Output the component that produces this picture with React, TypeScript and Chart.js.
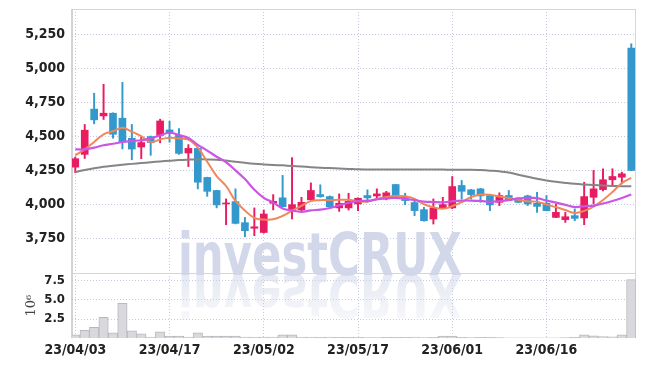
import { useEffect, useRef } from 'react';
import { Chart, registerables } from 'chart.js';

Chart.register(...registerables);

const dates = [
  '23/04/03', '23/04/04', '23/04/05', '23/04/06', '23/04/07', '23/04/10', '23/04/11', '23/04/12', '23/04/13', '23/04/14',
  '23/04/17', '23/04/18', '23/04/19', '23/04/20', '23/04/21', '23/04/24', '23/04/25', '23/04/26', '23/04/27', '23/04/28',
  '23/05/02', '23/05/03', '23/05/04', '23/05/08', '23/05/09', '23/05/10', '23/05/11', '23/05/12', '23/05/15', '23/05/16',
  '23/05/17', '23/05/18', '23/05/19', '23/05/22', '23/05/23', '23/05/24', '23/05/25', '23/05/26', '23/05/30', '23/05/31',
  '23/06/01', '23/06/02', '23/06/05', '23/06/07', '23/06/08', '23/06/09', '23/06/12', '23/06/13', '23/06/14', '23/06/15',
  '23/06/16', '23/06/19', '23/06/20', '23/06/21', '23/06/22', '23/06/23', '23/06/26', '23/06/27', '23/06/28', '23/06/29',
];

const opens = [
  4276, 4370, 4703, 4653, 4673, 4636, 4488, 4424, 4501, 4510,
  4550, 4510, 4380, 4414, 4200, 4104, 4005, 4022, 3867, 3826,
  3795, 4010, 4050, 3956, 3961, 4035, 4074, 4059, 3976, 3976,
  4005, 4067, 4064, 4042, 4148, 4059, 4015, 3963, 3894, 3976,
  3976, 4141, 4109, 4116, 4067, 4017, 4067, 4042, 4064, 4010,
  4010, 3906, 3889, 3919, 3902, 4054, 4111, 4183, 4202, 5152,
];

const highs = [
  4350, 4590, 4820, 4886, 4675, 4900, 4590, 4498, 4505, 4629,
  4614, 4560, 4442, 4418, 4202, 4106, 4042, 4116, 3906, 3976,
  3961, 4074, 4215, 4346, 4054, 4160, 4146, 4064, 4079, 4084,
  4050, 4109, 4116, 4098, 4150, 4084, 4030, 3980, 4042, 4054,
  4207, 4178, 4112, 4120, 4070, 4087, 4104, 4050, 4070, 4091,
  4067, 4005, 3943, 3968, 4165, 4252, 4264, 4264, 4239, 5184,
];

const lows = [
  4235, 4340, 4595, 4627, 4490, 4410, 4330, 4338, 4363, 4455,
  4460, 4370, 4280, 4116, 4061, 3976, 3852, 3858, 3763, 3771,
  3790, 3961, 3983, 3894, 3950, 4033, 4054, 3980, 3950, 3960,
  3956, 4017, 4050, 4035, 4054, 4000, 3919, 3878, 3857, 3974,
  3970, 4042, 4042, 4017, 3956, 3993, 4033, 4015, 3993, 3943,
  3954, 3904, 3869, 3882, 3852, 4005, 4100, 4141, 4153, 4250,
];

const closes = [
  4338, 4548, 4624, 4673, 4518, 4461, 4409, 4457, 4457, 4616,
  4525, 4377, 4414, 4165, 4098, 3998, 4012, 3862, 3808, 3837,
  3931, 4024, 3985, 4000, 4017, 4104, 4059, 3985, 4010, 4024,
  4047, 4050, 4079, 4087, 4059, 4030, 3956, 3882, 3976, 4000,
  4133, 4098, 4074, 4064, 3998, 4067, 4035, 4017, 4005, 3987,
  3956, 3943, 3911, 3899, 4059, 4116, 4183, 4207, 4227, 4252,
];

const volumes = [
  430000, 1040000, 1420000, 2720000, 690000, 4530000, 950000, 560000, 130000, 820000,
  260000, 260000, 130000, 690000, 260000, 260000, 260000, 260000, 130000, 130000,
  130000, 130000, 430000, 430000, 130000, 130000, 100000, 150000, 100000, 100000,
  100000, 80000, 80000, 100000, 100000, 120000, 150000, 80000, 100000, 260000,
  260000, 100000, 80000, 120000, 120000, 80000, 60000, 60000, 60000, 60000,
  60000, 60000, 80000, 100000, 430000, 300000, 220000, 180000, 430000, 7640000,
];

const ma5 = [
  4363, 4407, 4461, 4518, 4540, 4565, 4537, 4504, 4460, 4480,
  4493, 4486, 4478, 4419, 4316, 4210, 4137, 4027, 3956, 3903,
  3890, 3892, 3917, 3955, 3991, 4026, 4033, 4033, 4035, 4036,
  4025, 4023, 4042, 4057, 4064, 4061, 4042, 4003, 3981, 3969,
  3989, 4018, 4056, 4074, 4073, 4060, 4048, 4036, 4024, 4022,
  4000, 3982, 3960, 3939, 3954, 3986, 4034, 4093, 4158, 4197,
];

const ma10 = [
  4407, 4407, 4420, 4437, 4448, 4461, 4468, 4474, 4486, 4510,
  4529, 4512, 4491, 4440, 4398, 4352, 4312, 4252, 4188, 4110,
  4050, 4015, 3972, 3956, 3947, 3958, 3963, 3975, 3995, 4014,
  4026, 4028, 4038, 4046, 4050, 4043, 4033, 4022, 4019, 4017,
  4025, 4030, 4030, 4027, 4021, 4025, 4033, 4046, 4049, 4048,
  4030, 4015, 3998, 3982, 3988, 3993, 4008, 4027, 4049, 4075,
];

const maLong = [
  4239, 4255, 4268, 4279, 4287, 4294, 4300, 4306, 4312, 4318,
  4323, 4328, 4331, 4333, 4333, 4331, 4324, 4316, 4308, 4301,
  4296, 4292, 4289, 4285, 4281, 4276, 4272, 4269, 4266, 4263,
  4260, 4259, 4259, 4259, 4259, 4259, 4259, 4259, 4258, 4258,
  4257, 4257, 4257, 4254, 4250, 4245, 4236, 4220, 4205, 4190,
  4178, 4168, 4160, 4153, 4148, 4144, 4141, 4138, 4136, 4135,
];

const xTickIndex = [0, 10, 20, 30, 40, 50];
const priceTicks = [3750, 4000, 4250, 4500, 4750, 5000, 5250];
const volumeTicks = [2500000, 5000000, 7500000];

const UP = '#e81c61';
const DOWN = '#3399cc';
const GRID = 'rgba(150,155,200,0.55)';
const LABEL_FONT = '"Liberation Sans Narrow", "DejaVu Sans Condensed", sans-serif';

export default function App() {
  const ref = useRef<HTMLCanvasElement | null>(null);

  useEffect(() => {
    if (!ref.current) return;
    const colors = closes.map((c, i) => (c >= opens[i] ? UP : DOWN));
    const pts = (arr: number[]) => arr.map((v, i) => ({ x: i, y: v }));

    const watermark = {
      id: 'watermark',
      beforeDatasetsDraw(chart: any) {
        const ctx = chart.ctx;
        const text = 'investCRUX';
        ctx.save();
        ctx.font = 'bold 58px "DejaVu Sans"';
        const w = ctx.measureText(text).width;
        const sx = 284 / w;
        ctx.translate(178, 275);
        ctx.scale(sx, 1);
        ctx.textBaseline = 'alphabetic';
        ctx.fillStyle = 'rgb(210,215,233)';
        ctx.fillText(text, 0, 0);
        ctx.scale(1, -1);
        const g = ctx.createLinearGradient(0, 0, 0, -44);
        g.addColorStop(0, 'rgba(210,215,233,0.55)');
        g.addColorStop(1, 'rgba(210,215,233,0.2)');
        ctx.fillStyle = g;
        ctx.fillText(text, 0, 0);
        ctx.restore();

        const a = chart.chartArea;
        const sep = chart.scales.y.bottom;
        ctx.save();
        ctx.strokeStyle = '#d6d6d6';
        ctx.lineWidth = 1;
        ctx.beginPath();
        ctx.moveTo(a.left, a.top + 0.5);
        ctx.lineTo(a.right, a.top + 0.5);
        ctx.moveTo(a.right - 0.5, a.top);
        ctx.lineTo(a.right - 0.5, a.bottom);
        ctx.moveTo(a.left, Math.round(sep) + 0.5);
        ctx.lineTo(a.right, Math.round(sep) + 0.5);
        ctx.stroke();
        ctx.strokeStyle = '#c4c4c4';
        ctx.lineWidth = 1.5;
        ctx.beginPath();
        ctx.moveTo(a.left, a.top);
        ctx.lineTo(a.left, a.bottom);
        ctx.stroke();
        ctx.restore();
      },
    };

    const fitLeft = (s: any) => {
      s.width = 72;
      s.paddingTop = 0;
      s.paddingBottom = 0;
    };

    const chart = new Chart(ref.current, {
      type: 'bar',
      data: {
        datasets: [
          {
            type: 'line',
            data: pts(ma10),
            yAxisID: 'y',
            borderColor: '#cc55e6',
            borderWidth: 2.2,
            pointRadius: 0,
            tension: 0.4,
            order: 1,
          } as any,
          {
            type: 'line',
            data: pts(ma5),
            yAxisID: 'y',
            borderColor: '#f0875a',
            borderWidth: 2,
            pointRadius: 0,
            tension: 0.4,
            order: 2,
          },
          {
            type: 'line',
            data: pts(maLong),
            yAxisID: 'y',
            borderColor: '#858585',
            borderWidth: 2,
            pointRadius: 0,
            tension: 0.4,
            order: 3,
          },
          {
            type: 'bar',
            data: opens.map((o, i) => ({ x: i, y: [o, closes[i]] })),
            yAxisID: 'y',
            backgroundColor: colors,
            barThickness: 7,
            grouped: false,
            order: 5,
          },
          {
            type: 'bar',
            data: lows.map((l, i) => ({ x: i, y: [l, highs[i]] })),
            yAxisID: 'y',
            backgroundColor: colors,
            barThickness: 1.3,
            grouped: false,
            order: 6,
          },
          {
            type: 'bar',
            data: pts(volumes),
            yAxisID: 'yv',
            backgroundColor: '#d8d8dd',
            borderColor: '#b8b8be',
            borderWidth: 1,
            barPercentage: 1,
            categoryPercentage: 1,
            grouped: false,
            order: 7,
          },
        ] as any,
      },
      options: {
        animation: false,
        responsive: false,
        maintainAspectRatio: false,
        devicePixelRatio: 1,
        layout: { padding: { top: 9, right: 9, bottom: 3, left: 0 } },
        plugins: { legend: { display: false }, tooltip: { enabled: false } },
        scales: {
          x: {
            type: 'linear',
            offset: false,
            min: -0.35,
            max: 59.5,
            afterBuildTicks: (ax: any) => {
              ax.ticks = xTickIndex.map((v) => ({ value: v }));
            },
            ticks: {
              callback: (v: any) => dates[v as number] ?? '',
              font: { family: LABEL_FONT, size: 14, weight: 'bold' },
              color: '#222',
              padding: 4,
              maxRotation: 0,
              autoSkip: false,
            },
            grid: { color: GRID, drawTicks: false, offset: false },
            border: { display: false, dash: [1, 2] },
          },
          yv: {
            type: 'linear',
            position: 'left',
            stack: 'panels',
            stackWeight: 65,
            min: 0,
            max: 8500000,
            afterBuildTicks: (ax: any) => {
              ax.ticks = volumeTicks.map((v) => ({ value: v }));
            },
            afterFit: fitLeft,
            ticks: {
              callback: (v: any) => ((v as number) / 1000000).toFixed(1),
              font: { family: LABEL_FONT, size: 13, weight: 'bold' },
              color: '#222',
              padding: 7,
              autoSkip: false,
            },
            title: {
              display: true,
              text: '10⁶',
              font: { family: '"DejaVu Serif", serif', size: 13 },
              color: '#444',
              padding: { top: 24, bottom: 0 },
            },
            grid: { color: GRID, drawTicks: false },
            border: { display: false, dash: [1, 2] },
          },
          y: {
            type: 'linear',
            position: 'left',
            stack: 'panels',
            stackWeight: 263,
            min: 3497,
            max: 5440,
            afterBuildTicks: (ax: any) => {
              ax.ticks = priceTicks.map((v) => ({ value: v }));
            },
            afterFit: fitLeft,
            ticks: {
              callback: (v: any) => (v as number).toLocaleString('en-US'),
              font: { family: LABEL_FONT, size: 14, weight: 'bold' },
              color: '#222',
              padding: 7,
              autoSkip: false,
            },
            grid: { color: GRID, drawTicks: false },
            border: { display: false, dash: [1, 2] },
          },
        } as any,
      },
      plugins: [watermark],
    });

    return () => chart.destroy();
  }, []);

  return (
    <div style={{ position: 'fixed', left: 0, top: 0, width: 645, height: 366, background: '#fff' }}>
      <canvas ref={ref} width={645} height={366} style={{ display: 'block' }} />
    </div>
  );
}
